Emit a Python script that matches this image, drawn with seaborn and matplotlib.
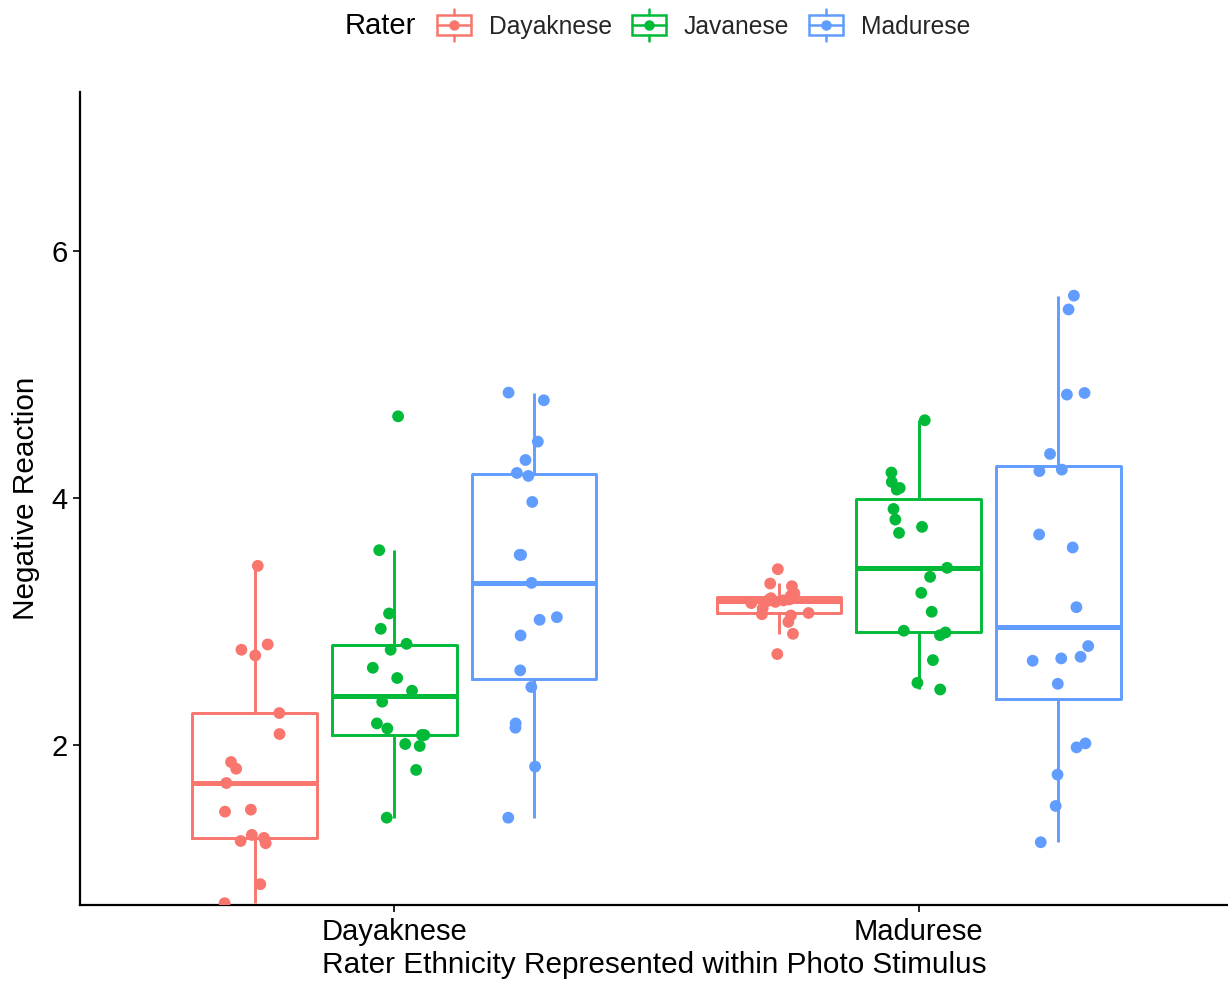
import numpy as np
import pandas as pd
import matplotlib
matplotlib.use("Agg")
import matplotlib.pyplot as plt
import seaborn as sns
from matplotlib.patches import Rectangle
from matplotlib.lines import Line2D
from matplotlib.legend_handler import HandlerBase

stimulus_levels = ["Dayaknese", "Madurese"]
rater_levels = ["Dayaknese", "Javanese", "Madurese"]
palette = ["#F8766D", "#00BA38", "#619CFF"]

# Dayaknese photo stimulus, by rater group
day_stim_day = [3.452, 2.815, 2.772, 2.726, 2.259, 2.089, 1.862, 1.808, 1.692,
                1.476, 1.460, 1.271, 1.247, 1.222, 1.204, 0.872, 0.718]
day_stim_jav = [4.664, 3.579, 3.066, 2.942, 2.820, 2.772, 2.626, 2.543, 2.440,
                2.351, 2.175, 2.134, 2.081, 2.081, 2.008, 1.992, 1.798, 1.411]
day_stim_mad = [4.856, 4.794, 4.459, 4.310, 4.205, 4.181, 3.970, 3.541, 3.541,
                3.314, 3.036, 3.015, 2.888, 2.605, 2.470, 2.175, 2.140, 1.825, 1.411]
# Madurese photo stimulus, by rater group
mad_stim_day = [3.425, 3.309, 3.287, 3.228, 3.210, 3.201, 3.190, 3.180, 3.175, 3.172,
                3.168, 3.160, 3.150, 3.107, 3.070, 3.060, 3.050, 2.998, 2.901, 2.737]
mad_stim_jav = [4.632, 4.208, 4.132, 4.083, 4.070, 3.913, 3.827, 3.768, 3.719, 3.436,
                3.363, 3.233, 3.080, 2.926, 2.912, 2.890, 2.688, 2.504, 2.450]
mad_stim_mad = [5.642, 5.530, 4.853, 4.840, 4.359, 4.232, 4.220, 3.706, 3.601, 3.117,
                2.802, 2.715, 2.702, 2.683, 2.496, 2.013, 1.981, 1.760, 1.506, 1.212]

groups = {
    ("Dayaknese", "Dayaknese"): day_stim_day,
    ("Dayaknese", "Javanese"): day_stim_jav,
    ("Dayaknese", "Madurese"): day_stim_mad,
    ("Madurese", "Dayaknese"): mad_stim_day,
    ("Madurese", "Javanese"): mad_stim_jav,
    ("Madurese", "Madurese"): mad_stim_mad,
}
rows = []
for (stim, rater), vals in groups.items():
    for v in vals:
        rows.append({"stimulus": stim, "rater": rater, "value": v})
df = pd.DataFrame(rows)


# legend key that looks like ggplot's boxplot + point key
class BoxKey(HandlerBase):
    def create_artists(self, legend, orig_handle, xdescent, ydescent,
                       width, height, fontsize, trans):
        c = orig_handle.get_color()
        x0, y0 = -xdescent, -ydescent
        cx, cy = x0 + width / 2, y0 + height / 2
        bh, wh = 0.42 * height, 0.68 * height
        box = Rectangle((x0, cy - bh), width, 2 * bh, facecolor="none",
                        edgecolor=c, linewidth=1.8, transform=trans)
        med = Line2D([x0, x0 + width], [cy, cy], color=c, linewidth=1.8,
                     transform=trans)
        up = Line2D([cx, cx], [cy + bh, cy + wh], color=c, linewidth=1.8,
                    transform=trans)
        lo = Line2D([cx, cx], [cy - bh, cy - wh], color=c, linewidth=1.8,
                    transform=trans)
        dot = Line2D([cx], [cy], color=c, marker="o", markersize=6.5,
                     linestyle="none", transform=trans)
        return [box, med, up, lo, dot]


sns.set_theme(style="ticks")
plt.rcParams['font.family'] = ['Liberation Sans', 'DejaVu Sans']

fig, ax = plt.subplots(figsize=(12.28, 9.82), dpi=100)
fig.subplots_adjust(left=0.065, right=1.0, bottom=0.078, top=0.906)

sns.boxplot(data=df, x="stimulus", y="value", hue="rater",
            order=stimulus_levels, hue_order=rater_levels, palette=palette,
            fill=False, width=0.8, gap=0.11, showfliers=False, showcaps=False,
            linewidth=2.1, medianprops=dict(linewidth=3.6), legend=False, ax=ax)

np.random.seed(3)
sns.stripplot(data=df, x="stimulus", y="value", hue="rater",
              order=stimulus_levels, hue_order=rater_levels, palette=palette,
              dodge=True, jitter=0.18, size=8.5, linewidth=0, legend=False,
              zorder=3, ax=ax)

ax.set_xlim(-0.6, 1.59)
ax.set_ylim(0.70, 7.29)
ax.set_yticks([2, 4, 6])
sns.despine(ax=ax)
for s in ["left", "bottom"]:
    ax.spines[s].set_color("black")
    ax.spines[s].set_linewidth(1.6)
ax.tick_params(length=5, width=1.2, color="black", labelsize=21,
               labelcolor="black", pad=4)
ax.set_xlabel("Rater Ethnicity Represented within Photo Stimulus", fontsize=21.4,
              color="black", labelpad=4)
ax.set_ylabel("Negative Reaction", fontsize=21.4, color="black", labelpad=8)

handles = [Line2D([], [], color=c) for c in palette]
fig.text(0.281, 0.9735, "Rater", fontsize=21, va="center", color="black")
fig.legend(handles, rater_levels, handler_map={Line2D: BoxKey()},
           loc="center left", bbox_to_anchor=(0.356, 0.9735), ncol=3,
           frameon=False, fontsize=17.7, handlelength=1.38, handleheight=1.1,
           handletextpad=0.73, columnspacing=0.81, borderpad=0,
           borderaxespad=0)

fig.savefig("out.png", dpi=100)
